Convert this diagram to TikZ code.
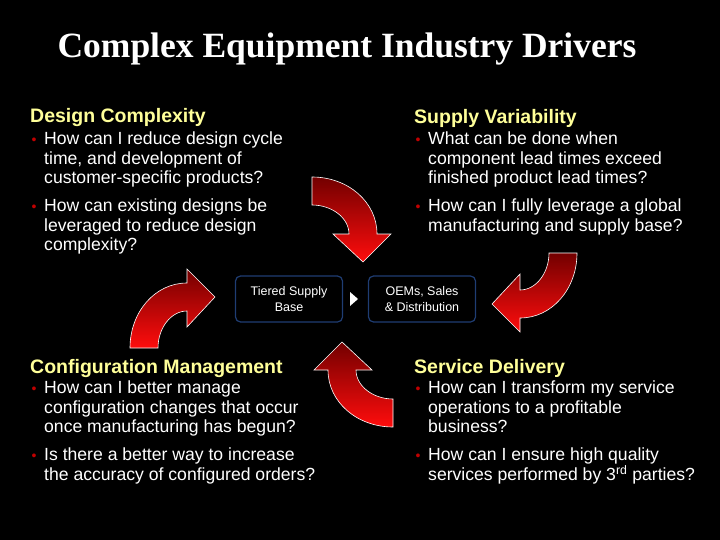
\documentclass[tikz,border=0pt]{standalone}
\usepackage{fontspec}
\setmainfont{Liberation Sans}
\newfontfamily\titlefont{Liberation Serif}
\definecolor{hdr}{HTML}{FFFF99}
\definecolor{bul}{HTML}{C00000}
\definecolor{boxb}{HTML}{1F3D73}
\begin{document}
\begin{tikzpicture}[x=1pt,y=-1pt,
  hd/.style={anchor=west,inner sep=0pt,text=hdr,font=\fontsize{19.5}{22}\selectfont\bfseries},
  bt/.style={anchor=north west,inner sep=0pt,text=white,align=left,font=\fontsize{17.6}{19.4}\selectfont},
  bu/.style={anchor=center,inner sep=0pt,text=bul,font=\fontsize{14}{14}\selectfont},
  flow/.style={draw=boxb,line width=1.2pt,rounded corners=5pt,text=white,align=center,minimum width=107pt,minimum height=46pt,font=\fontsize{12.5}{16.5}\selectfont},
  redarrow/.style={draw=white,line width=0.6pt,top color=red!45!black,bottom color=red!95!white,shading angle=0}]
\fill[black] (0,0) rectangle (720,540);
\useasboundingbox (0,0) rectangle (720,540);
\def\arrowpath{(0,0) .. controls (36,0) and (65,25) .. (65,57) -- (79,57) -- (51,85) -- (21,57) -- (37,57) .. controls (37,41) and (20,28) .. (0,28) -- cycle}
\node[anchor=base,text=white,font=\titlefont\fontsize{35.5}{40}\selectfont\bfseries] (title) at (347,58) {Complex Equipment Industry Drivers};
% headers
\node[hd] (h1) at (30,118) {Design Complexity};
\node[hd] (h2) at (414,118) {Supply Variability};
\node[hd] (h3) at (30,368) {Configuration Management};
\node[hd] (h4) at (414,368) {Service Delivery};
% bullets and texts
\node[bu] (b1) at (34,141) {•};
\node[bt] (t1) at (44,132) {How can I reduce design cycle\\time, and development of\\customer-specific products?};
\node[bu] (b2) at (34,208) {•};
\node[bt] (t2) at (44,199) {How can existing designs be\\leveraged to reduce design\\complexity?};
\node[bu] (b3) at (418,141) {•};
\node[bt] (t3) at (428,132) {What can be done when\\component lead times exceed\\finished product lead times?};
\node[bu] (b4) at (418,208) {•};
\node[bt] (t4) at (428,199) {How can I fully leverage a global\\manufacturing and supply base?};
\node[bu] (b5) at (34,390) {•};
\node[bt] (t5) at (44,381) {How can I better manage\\configuration changes that occur\\once manufacturing has begun?};
\node[bu] (b6) at (34,457) {•};
\node[bt] (t6) at (44,448) {Is there a better way to increase\\the accuracy of configured orders?};
\node[bu] (b7) at (418,390) {•};
\node[bt] (t7) at (428,381) {How can I transform my service\\operations to a profitable\\business?};
\node[bu] (b8) at (418,457) {•};
\node[bt] (t8) at (428,448) {How can I ensure high quality\\services performed by 3\textsuperscript{rd} parties?};
% arrows
\begin{scope}[shift={(312,177)}]
  \path[redarrow] \arrowpath;
\end{scope}
\begin{scope}[shift={(577,253)},rotate=-90]
  \path[redarrow] \arrowpath;
\end{scope}
\begin{scope}[shift={(393,427)},rotate=180]
  \path[redarrow] \arrowpath;
\end{scope}
\begin{scope}[shift={(130,348)},rotate=90]
  \path[redarrow] \arrowpath;
\end{scope}
% flow boxes
\node[flow] (tsb) at (289,299) {Tiered Supply\\Base};
\node[flow] (oem) at (422,299) {OEMs, Sales\\\& Distribution};
\coordinate (tri) at (354,299);
\fill[white] ([xshift=-4pt,yshift=-7pt]tri) -- ([xshift=4pt]tri) -- ([xshift=-4pt,yshift=7pt]tri) -- cycle;
\end{tikzpicture}
\end{document}
